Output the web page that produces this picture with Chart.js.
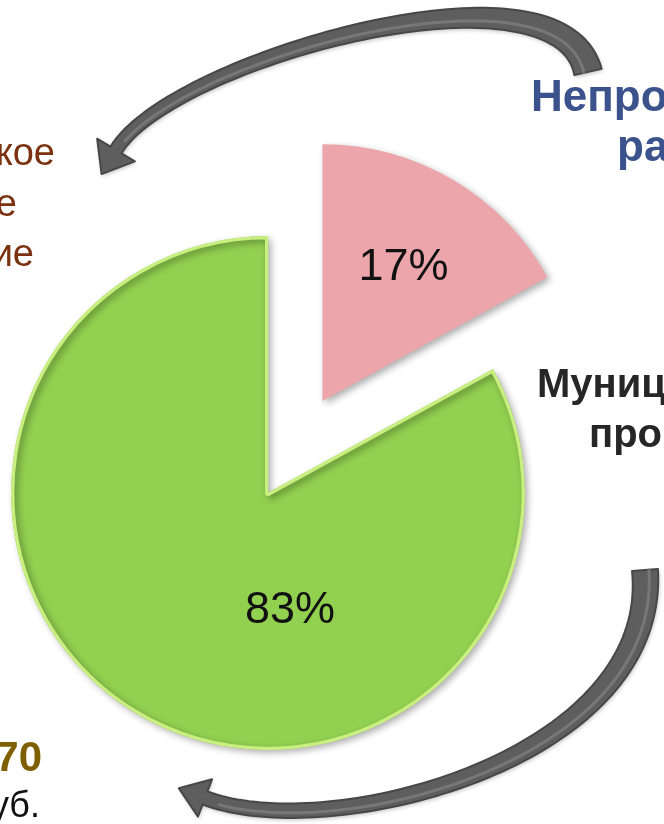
<!DOCTYPE html>
<html lang="ru">
<head>
<meta charset="utf-8">
<title>Структура расходов</title>
<script src="https://cdn.jsdelivr.net/npm/chart.js@4.4.1/dist/chart.umd.min.js"></script>
<style>
  html, body { margin: 0; padding: 0; background: #fff; overflow: hidden; }
  #wrap { position: relative; width: 664px; height: 824px; overflow: hidden; }
  #pie { position: absolute; left: 0; top: 0; }
  .note { position: absolute; white-space: nowrap; line-height: 1;
          font-family: "Liberation Sans", Arial, sans-serif; }
  .blue { color: #3b528c; font-weight: bold; font-size: 44px; }
  .dark { color: #262626; font-weight: bold; font-size: 40px; }
  .brown { color: #7a3210; font-size: 38px; }
  .gold { color: #7f6000; font-weight: bold; font-size: 42px; }
  .black { color: #111; font-size: 36px; }
</style>
</head>
<body>
<div id="wrap">
  <canvas id="pie" width="664" height="824"></canvas>

  <!-- подписи, обрезанные краем слайда -->
  <div class="note blue" style="left:531px; top:74px;">Непро</div>
  <div class="note blue" style="left:617px; top:124px;">ра</div>
  <div class="note dark" style="left:537px; top:363px;">Муниц</div>
  <div class="note dark" style="left:589px; top:413px;">про</div>
  <div class="note brown" style="right:609px; top:133px;">кое</div>
  <div class="note brown" style="right:647px; top:184px;">е</div>
  <div class="note brown" style="right:630px; top:234px;">ие</div>
  <div class="note gold" style="right:622px; top:736px;">70</div>
  <div class="note black" style="right:624px; top:787px;">уб.</div>
</div>

<script>
// данные диаграммы
const categories = ['Непрограммные расходы', 'Муниципальные программы'];
const shares = [17, 83];          // %
const sliceColors = ['#eca5aa', '#92d050'];
const rimColors = ['#eca5aa', '#c9ef80'];
const explode = [107, 0];         // на сколько пикселей выдвинут сектор

// где ставить процент: deg = угол от 12 часов (null = биссектриса), frac = доля радиуса
const labelAnchor = [{ deg: null, frac: 0.62 }, { deg: 169, frac: 0.45 }];

// декоративные стрелки (кривые Безье)
const arrows = [
    { pts: [[588, 72], [560, -50], [170, 60], [116, 150]], w0: 28, w1: 13, hl: 28, hw: 22 },
    { pts: [[645, 570], [660, 760], [330, 845], [205, 798]], w0: 26, w1: 14, hl: 28, hw: 20 }
];

function drawArrow(ctx, a) {
    const [p0, p1, p2, p3] = a.pts;
    const bz = (t, i) => { const u = 1 - t; return u*u*u*p0[i] + 3*u*u*t*p1[i] + 3*u*t*t*p2[i] + t*t*t*p3[i]; };
    const dz = (t, i) => { const u = 1 - t; return 3*u*u*(p1[i]-p0[i]) + 6*u*t*(p2[i]-p1[i]) + 3*t*t*(p3[i]-p2[i]); };
    const n = 80, left = [], right = [], mid = [];
    for (let k = 0; k <= n; k++) {
        const t = k / n;
        const x = bz(t, 0), y = bz(t, 1);
        let dx = dz(t, 0), dy = dz(t, 1);
        const len = Math.hypot(dx, dy); dx /= len; dy /= len;
        const w = (a.w1 + (a.w0 - a.w1) * Math.pow(1 - t, 2)) / 2;
        left.push([x - dy * w, y + dx * w]);
        right.push([x + dy * w, y - dx * w]);
        mid.push([x + dy * w * 0.3, y - dx * w * 0.3]);
    }
    let dx = dz(1, 0), dy = dz(1, 1);
    const len = Math.hypot(dx, dy); dx /= len; dy /= len;
    const [ex, ey] = p3;
    const tip = [ex + dx * a.hl, ey + dy * a.hl];

    ctx.save();
    ctx.beginPath();
    left.forEach((p, i) => i ? ctx.lineTo(p[0], p[1]) : ctx.moveTo(p[0], p[1]));
    ctx.lineTo(ex - dy * a.hw, ey + dx * a.hw);
    ctx.lineTo(tip[0], tip[1]);
    ctx.lineTo(ex + dy * a.hw, ey - dx * a.hw);
    for (let i = right.length - 1; i >= 0; i--) ctx.lineTo(right[i][0], right[i][1]);
    ctx.closePath();
    ctx.shadowColor = 'rgba(0,0,0,0.25)';
    ctx.shadowBlur = 4;
    ctx.shadowOffsetX = 1;
    ctx.shadowOffsetY = 2;
    ctx.fillStyle = '#5e5e5e';
    ctx.fill();
    ctx.shadowColor = 'transparent';
    ctx.lineJoin = 'round';
    ctx.strokeStyle = '#474747';
    ctx.lineWidth = 2;
    ctx.stroke();
    // светлая полоса внутри
    ctx.beginPath();
    mid.slice(0, n - 2).forEach((p, i) => i ? ctx.lineTo(p[0], p[1]) : ctx.moveTo(p[0], p[1]));
    ctx.strokeStyle = 'rgba(140,140,140,0.55)';
    ctx.lineWidth = 3;
    ctx.lineCap = 'round';
    ctx.stroke();
    ctx.restore();
}

const arrowPlugin = {
    id: 'arrows',
    beforeDatasetsDraw(chart) {
        arrows.forEach(a => drawArrow(chart.ctx, a));
    }
};

// выдвигаем сектор, тень под секторами, подписи процентов
const slicePlugin = {
    id: 'sliceDecor',
    afterDatasetsUpdate(chart) {
        chart.getDatasetMeta(0).data.forEach((arc, i) => {
            const off = explode[i] || 0;
            if (!off) return;
            const midA = (arc.startAngle + arc.endAngle) / 2;
            arc.x += Math.cos(midA) * off;
            arc.y += Math.sin(midA) * off;
        });
    },
    beforeDatasetsDraw(chart) {
        const ctx = chart.ctx;
        ctx.save();
        ctx.shadowColor = 'rgba(0,0,0,0.32)';
        ctx.shadowBlur = 7;
        ctx.shadowOffsetX = 3;
        ctx.shadowOffsetY = 3;
    },
    afterDatasetsDraw(chart) {
        const ctx = chart.ctx;
        ctx.restore();
        const meta = chart.getDatasetMeta(0);
        const total = shares.reduce((s, v) => s + v, 0);
        ctx.save();
        ctx.font = '45px "Liberation Sans", Arial, sans-serif';
        ctx.fillStyle = '#111';
        ctx.textAlign = 'center';
        ctx.textBaseline = 'alphabetic';
        meta.data.forEach((arc, i) => {
            const midA = (arc.startAngle + arc.endAngle) / 2;
            const anc = labelAnchor[i];
            const a = anc.deg === null ? midA : (anc.deg - 90) * Math.PI / 180;
            const d = anc.frac * arc.outerRadius;
            const txt = Math.round(shares[i] / total * 100) + '%';
            ctx.fillText(txt, arc.x + Math.cos(a) * d, arc.y + Math.sin(a) * d + 45 * 0.358);
        });
        ctx.restore();
    }
};

new Chart(document.getElementById('pie'), {
    type: 'pie',
    data: {
        labels: categories,
        datasets: [{
            data: shares,
            backgroundColor: sliceColors,
            borderColor: rimColors,
            borderWidth: [0, 3],
            borderAlign: 'inner',
            clip: false
        }]
    },
    options: {
        responsive: false,
        animation: false,
        events: [],
        radius: 257,
        rotation: 0,
        layout: { padding: { left: 0, right: 128, top: 162, bottom: 0 } },
        plugins: {
            legend: { display: false },
            tooltip: { enabled: false }
        }
    },
    plugins: [arrowPlugin, slicePlugin]
});
</script>
</body>
</html>
